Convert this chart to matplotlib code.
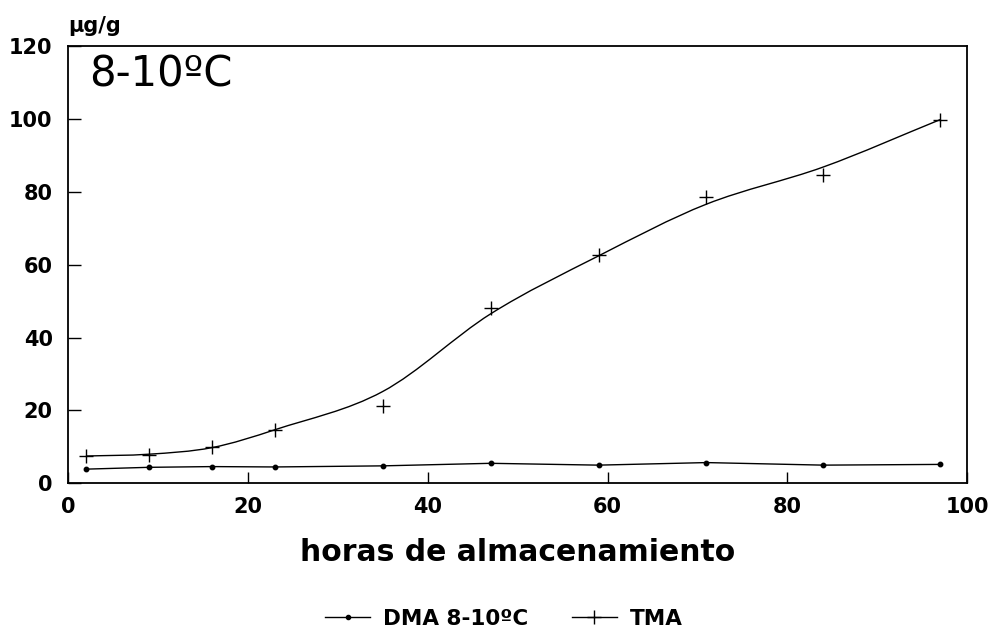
import numpy as np
import matplotlib
matplotlib.use('Agg')
import matplotlib.pyplot as plt
from matplotlib.path import Path
from matplotlib.patches import PathPatch
from matplotlib.lines import Line2D

# storage time (hours) and amine content (ug/g) at 8-10 C
horas = [2, 9, 16, 23, 35, 47, 59, 71, 84, 97]
dma = [3.9, 4.4, 4.6, 4.5, 4.8, 5.5, 5.0, 5.7, 5.0, 5.2]
tma = [7.5, 7.8, 10.1, 14.7, 21.3, 48.2, 62.6, 78.7, 84.7, 99.8]
# smoothed TMA trend evaluated at the same hours
tma_trend = [7.5, 8.0, 9.8, 14.7, 25.2, 46.5, 62.4, 76.6, 86.8, 99.8]

xticks = [0, 20, 40, 60, 80, 100]
yticks = [0, 20, 40, 60, 80, 100, 120]


def smooth_path(xs, ys):
    """Hermite curve through the points (slopes from neighbours), as Bezier segments."""
    x = np.asarray(xs, float)
    y = np.asarray(ys, float)
    m = np.empty_like(y)
    m[1:-1] = (y[2:] - y[:-2]) / (x[2:] - x[:-2])
    m[0] = (y[1] - y[0]) / (x[1] - x[0])
    m[-1] = (y[-1] - y[-2]) / (x[-1] - x[-2])
    verts = [(x[0], y[0])]
    codes = [Path.MOVETO]
    for i in range(len(x) - 1):
        h = (x[i + 1] - x[i]) / 3
        verts += [(x[i] + h, y[i] + h * m[i]),
                  (x[i + 1] - h, y[i + 1] - h * m[i + 1]),
                  (x[i + 1], y[i + 1])]
        codes += [Path.CURVE4] * 3
    return Path(verts, codes)


fig = plt.figure(figsize=(9.92, 6.36), dpi=100)
ax = fig.add_axes([0.0685, 0.240, 0.9065, 0.6877])

ax.plot(horas, dma, color='black', lw=1.0, marker='o', ms=3.2, zorder=3)
ax.add_patch(PathPatch(smooth_path(horas, tma_trend), fill=False,
                       edgecolor='black', lw=1.0, zorder=3))
ax.plot(horas, tma, ls='none', marker='+', ms=10, mew=1.0, color='black', zorder=4)

ax.set_xlim(0, 100)
ax.set_ylim(0, 120)
ax.set_xticks(xticks)
ax.set_yticks(yticks)
ax.tick_params(direction='in', length=8, width=1.0, labelsize=15, pad=10)
ax.tick_params(axis='y', length=9, pad=11)
for lab in ax.get_xticklabels() + ax.get_yticklabels():
    lab.set_fontweight('bold')
for spine in ax.spines.values():
    spine.set_linewidth(1.3)

ax.set_xlabel('horas de almacenamiento', fontsize=21.5, fontweight='semibold',
              labelpad=15)
ax.text(2.4, 109, '8-10ºC', fontsize=30, va='baseline', ha='left')
fig.text(68 / 992, 1 - 32 / 636, 'µg/g', fontsize=15, fontweight='bold',
         va='baseline', ha='left')

handles = [
    Line2D([], [], color='black', lw=1.0, marker='o', ms=3),
    Line2D([], [], color='black', lw=1.0, marker='+', ms=10, mew=1.0),
]
fig.legend(handles, ['DMA 8-10ºC', 'TMA'], loc='center', ncol=2,
           bbox_to_anchor=(504 / 992, 1 - 619 / 636), frameon=False,
           prop={'size': 15.5, 'weight': 'bold'}, handlelength=2.1,
           handletextpad=0.6, columnspacing=2.0, numpoints=1)

fig.savefig('out.png', dpi=100, facecolor='white')
